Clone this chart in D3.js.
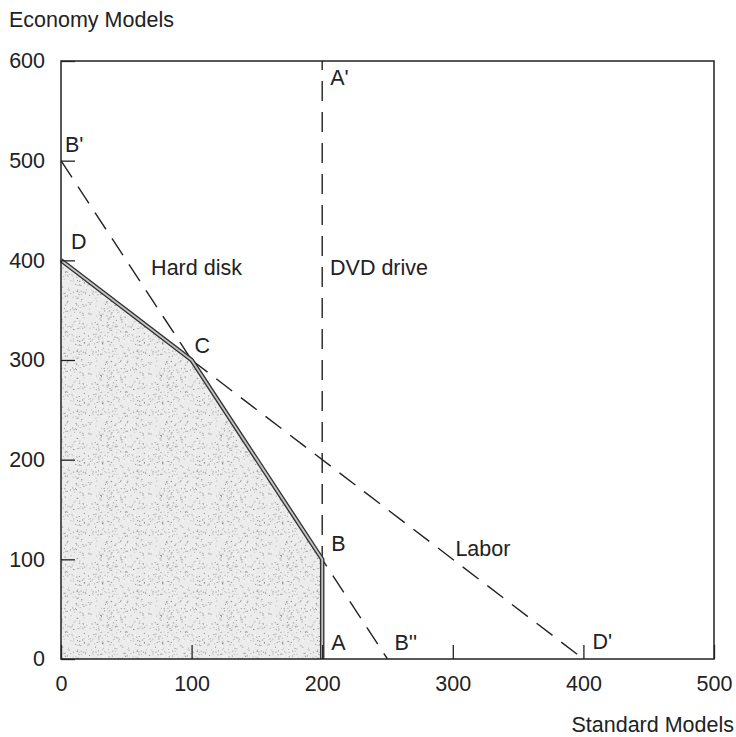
<!DOCTYPE html>
<html><head><meta charset="utf-8">
<script src="https://cdn.jsdelivr.net/npm/d3@7"></script>
<style>
body{margin:0;background:#fff;}
svg text{font-family:"Liberation Sans",Arial,Helvetica,sans-serif;fill:#222;}
</style></head>
<body><svg id="chart" width="736" height="737"></svg>
<script>
const xTicks = [0,100,200,300,400,500];
const yTicks = [0,100,200,300,400,500,600];
const frontier = [[0,400],[100,300],[200,100],[200,0]];
const feasible = [[0,0],[0,400],[100,300],[200,100],[200,0]];
const dvdLine = [[200,0],[200,600]];
const hardDiskLine = [[0,500],[250,0]];
const laborLine = [[100,300],[400,0]];
const pointLabels = [
  {t:"A'", x:200, y:600, dx:8, dy:24},
  {t:"B'", x:0, y:500, dx:4, dy:-9},
  {t:"D", x:0, y:400, dx:10, dy:-11},
  {t:"C", x:100, y:300, dx:3, dy:-7},
  {t:"B", x:200, y:100, dx:9, dy:-8},
  {t:"A", x:200, y:0, dx:9, dy:-9},
  {t:"B''", x:250, y:0, dx:7, dy:-9},
  {t:"D'", x:400, y:0, dx:9, dy:-10}
];
const regionLabels = [
  {t:"Hard disk", x:69, y:385},
  {t:"DVD drive", x:206, y:385},
  {t:"Labor", x:302, y:103}
];
const FS = 21.5;

const svg = d3.select("#chart");
const x = d3.scaleLinear().domain([0,500]).range([61,714]);
const y = d3.scaleLinear().domain([0,600]).range([659,61]);

// stipple pattern (decorative texture)
const defs = svg.append("defs");
const pat = defs.append("pattern").attr("id","stip").attr("width",60).attr("height",60).attr("patternUnits","userSpaceOnUse");
pat.append("rect").attr("width",60).attr("height",60).attr("fill","#ececec");
let s = 12345;
function lcg(){ s = (s*1103515245 + 12345) % 2147483648; return s/2147483648; }
for(let i=0;i<380;i++){
  const px = lcg()*60, py = lcg()*60, g = lcg();
  pat.append("rect").attr("x",px).attr("y",py).attr("width",1).attr("height",1)
    .attr("fill", g<0.35 ? "#8a8a8a" : (g<0.75 ? "#b4b4b4" : "#fafafa"));
}

svg.append("path").datum(feasible)
  .attr("d", d3.line().x(d=>x(d[0])).y(d=>y(d[1])))
  .attr("fill","url(#stip)").attr("stroke","none");

// dashed lines
const line = d3.line().x(d=>x(d[0])).y(d=>y(d[1]));
[dvdLine, hardDiskLine, laborLine].forEach(l=>{
  svg.append("path").datum(l).attr("d",line)
    .attr("fill","none").attr("stroke","#222").attr("stroke-width",1.4)
    .attr("stroke-dasharray","20,11");
});

// frontier double line
svg.append("path").datum(frontier).attr("d",line)
  .attr("fill","none").attr("stroke","#333").attr("stroke-width",4.5).attr("stroke-linejoin","miter");
svg.append("path").datum(frontier).attr("d",line)
  .attr("fill","none").attr("stroke","#c4c4c4").attr("stroke-width",1.8).attr("stroke-linejoin","miter");

// axes with inward ticks
const xAxis = svg.append("g").attr("transform",`translate(0,${y(0)})`)
  .call(d3.axisBottom(x).tickValues(xTicks).tickSizeInner(-14).tickSizeOuter(0).tickPadding(17));
const yAxis = svg.append("g").attr("transform",`translate(${x(0)},0)`)
  .call(d3.axisLeft(y).tickValues(yTicks).tickSizeInner(-14).tickSizeOuter(0).tickPadding(16));
[xAxis,yAxis].forEach(a=>{
  a.select(".domain").remove();
  a.selectAll("line").attr("stroke","#222").attr("stroke-width",1.3);
  a.selectAll("text").attr("font-size",FS).attr("fill","#222")
    .attr("font-family","'Liberation Sans',Arial,sans-serif");
});

// frame
svg.append("rect").attr("x",x(0)).attr("y",y(600)).attr("width",x(500)-x(0)).attr("height",y(0)-y(600))
  .attr("fill","none").attr("stroke","#222").attr("stroke-width",1.5);

// labels
svg.selectAll(".pl").data(pointLabels).enter().append("text")
  .attr("x",d=>x(d.x)+d.dx).attr("y",d=>y(d.y)+d.dy).attr("font-size",FS).text(d=>d.t);
svg.selectAll(".rl").data(regionLabels).enter().append("text")
  .attr("x",d=>x(d.x)).attr("y",d=>y(d.y)).attr("font-size",FS).text(d=>d.t);

svg.append("text").attr("x",9).attr("y",27).attr("font-size",FS).text("Economy Models");
svg.append("text").attr("x",734).attr("y",732).attr("font-size",FS).attr("text-anchor","end").text("Standard Models");
</script></body></html>
